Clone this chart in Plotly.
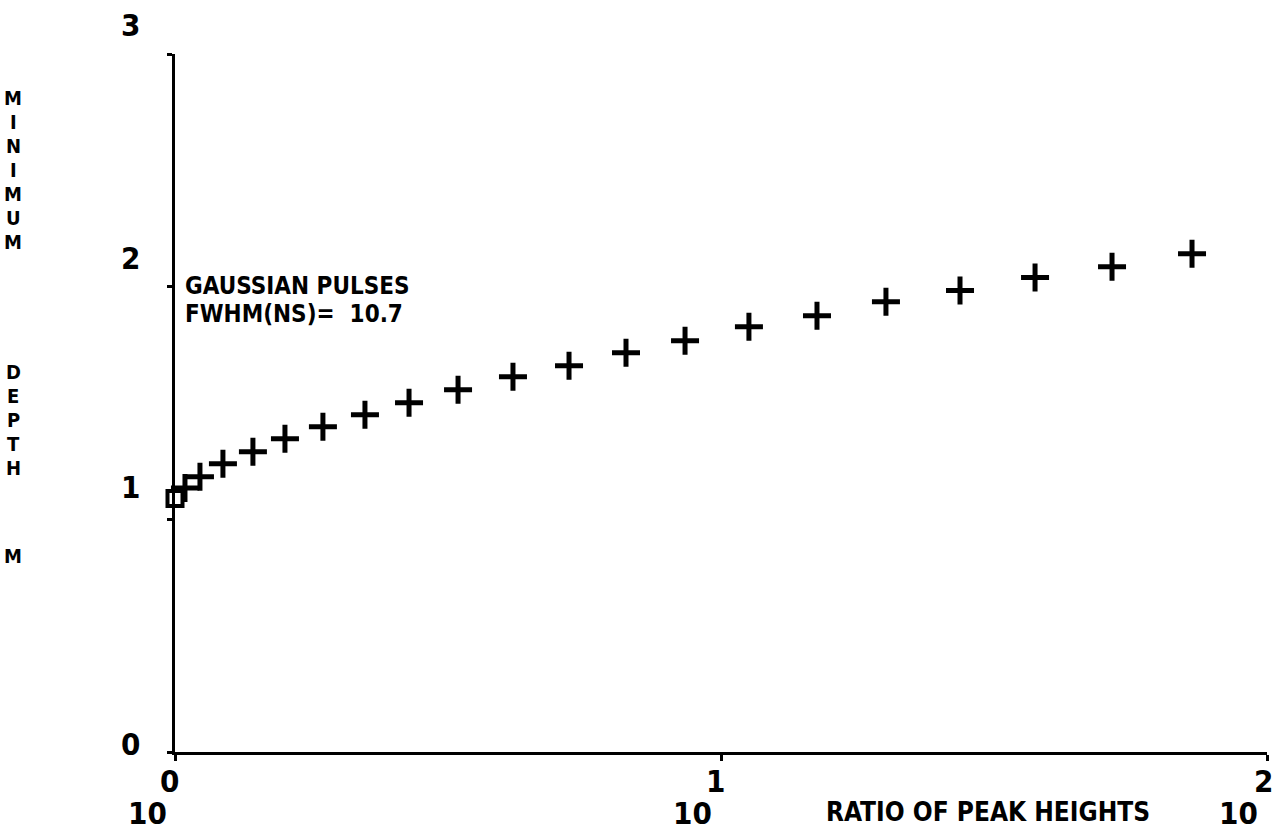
import math
import plotly.graph_objects as go

# ---- data ----
ratio = [1.043, 1.111, 1.224, 1.389, 1.590, 1.866, 2.228, 2.683, 3.299, 4.159,
         5.268, 6.699, 8.593, 11.25, 14.99, 20.05, 27.40, 37.60, 52.02, 72.89]
depth = [1.135, 1.183, 1.239, 1.290, 1.346, 1.398, 1.449, 1.501, 1.557, 1.613,
         1.660, 1.716, 1.768, 1.828, 1.875, 1.935, 1.983, 2.039, 2.086, 2.142]
start_ratio = [1.0]
start_depth = [1.09]

y_ticks = [0, 1, 2, 3]
y_tick_labels = ["0", "1", "2", "3"]
x_ticks = [1, 10, 100]
x_tick_base = ["10", "10", "10"]
x_tick_exp = ["0", "1", "2"]

x_title = "RATIO OF PEAK HEIGHTS"
y_title_words = ["MINIMUM", "DEPTH", "M"]
note_lines = ["GAUSSIAN PULSES", "FWHM(NS)=  10.7"]

FONT = "Liberation Sans Narrow, DejaVu Sans Condensed, Arial Narrow, sans-serif"

W, H = 1280, 840
L, R, T, B = 175, 13, 54, 88
plot_h = H - T - B
plot_w = W - L - R


def py(pix):
    """pixel row -> paper y"""
    return (H - B - pix) / plot_h


def px(pix):
    """pixel column -> paper x"""
    return (pix - L) / plot_w


fig = go.Figure()
fig.add_trace(go.Scatter(
    x=ratio, y=depth, mode="markers", cliponaxis=False,
    marker=dict(symbol="cross-thin", size=20, color="black",
                line=dict(width=5, color="black")),
    showlegend=False))
fig.add_trace(go.Scatter(
    x=start_ratio, y=start_depth, mode="markers", cliponaxis=False,
    marker=dict(symbol="square-open", size=15, color="black",
                line=dict(width=4, color="black")),
    showlegend=False))

ann = []
# y tick labels
y_shifts = [8, 32, 29, 29]
for v, t, s in zip(y_ticks, y_tick_labels, y_shifts):
    ann.append(dict(x=0, xref="paper", y=v, yref="y", text=t, showarrow=False,
                    xshift=-45, yshift=s, xanchor="center", yanchor="middle",
                    font=dict(family=FONT, size=31, color="black", weight="bold")))
# x tick labels (10 with superscript exponent); log axis -> annotation x in log10 units
base_dx = [-28, -29, -29]
exp_dx = [-6, -6, -4]
for v, b, e, bdx, edx in zip(x_ticks, x_tick_base, x_tick_exp, base_dx, exp_dx):
    lx = math.log10(v)
    ann.append(dict(x=lx, xref="x", y=0, yref="paper", text=b, showarrow=False,
                    xshift=bdx, yshift=-61, xanchor="center", yanchor="middle",
                    font=dict(family=FONT, size=31, color="black", weight="bold")))
    ann.append(dict(x=lx, xref="x", y=0, yref="paper", text=e, showarrow=False,
                    xshift=edx, yshift=-29, xanchor="center", yanchor="middle",
                    font=dict(family=FONT, size=31, color="black", weight="bold")))
# x axis title
ann.append(dict(x=px(988), xref="paper", y=py(812), yref="paper",
                text=x_title, showarrow=False, xanchor="center", yanchor="middle",
                font=dict(family=FONT, size=26, color="black", weight="bold")))
# note text
for line, cy in zip(note_lines, [286, 314]):
    ann.append(dict(x=px(183), xref="paper", y=py(cy), yref="paper",
                    text=line, showarrow=False, xanchor="left", yanchor="middle",
                    font=dict(family=FONT, size=24, color="black", weight="bold")))
# vertical stacked y title (one letter per row)
word_start = [98, 372, 556]
pitch = 24.0
for word, y0 in zip(y_title_words, word_start):
    for i, ch in enumerate(word):
        ann.append(dict(x=px(13), xref="paper", y=py(y0 + i * pitch),
                        yref="paper", text=ch, showarrow=False, xanchor="center",
                        yanchor="middle",
                        font=dict(family=FONT, size=20, color="black", weight="bold")))

fig.update_layout(
    width=W, height=H,
    margin=dict(l=L, r=R, t=T, b=B, pad=0),
    paper_bgcolor="white", plot_bgcolor="white",
    annotations=ann,
    xaxis=dict(type="log", range=[0, 2], showline=True, linewidth=3,
               linecolor="black", ticks="outside", ticklen=6, tickwidth=2.5,
               tickcolor="black", tickvals=x_ticks, showticklabels=False,
               showgrid=False, zeroline=False),
    yaxis=dict(range=[0, 3], showline=True, linewidth=3, linecolor="black",
               ticks="outside", ticklen=5, tickwidth=2.5, tickcolor="black",
               tickvals=y_ticks, showticklabels=False, showgrid=False,
               zeroline=False),
)

fig.write_html("out.html", config={"displayModeBar": False},
               post_script="document.body.style.margin='0';document.body.style.padding='0';")
